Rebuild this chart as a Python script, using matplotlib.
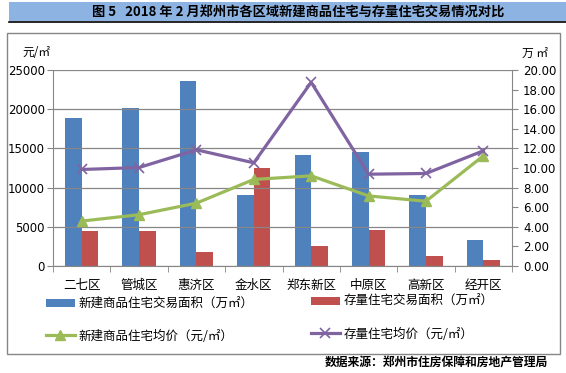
import matplotlib
matplotlib.use("Agg")
import matplotlib.pyplot as plt
from matplotlib.patches import Rectangle
from matplotlib.lines import Line2D
import numpy as np

plt.rcParams['font.family'] = ['Noto Sans CJK SC', 'DejaVu Sans']

# Data
districts = ["二七区", "管城区", "惠济区", "金水区", "郑东新区", "中原区", "高新区", "经开区"]
new_area = [15.14, 16.16, 18.90, 7.20, 11.31, 11.62, 7.22, 2.63]      # 万㎡
stock_area = [3.53, 3.53, 1.40, 9.95, 2.01, 3.65, 0.99, 0.58]        # 万㎡
new_price = [5730, 6540, 8020, 11040, 11500, 8940, 8260, 14050]      # 元/㎡
stock_price = [12310, 12560, 14820, 13160, 23430, 11710, 11800, 14690]  # 元/㎡

left_ticks = [0, 5000, 10000, 15000, 20000, 25000]
right_ticks = [0, 2, 4, 6, 8, 10, 12, 14, 16, 18, 20]

blue = '#4F81BD'
red = '#C0504D'
green = '#9BBB59'
purple = '#8064A2'
grey = '#868686'

W, H = 566, 373
fig = plt.figure(figsize=(W / 100, H / 100), dpi=100)

def fx(px):
    return px / W

def fy(py):
    return 1 - py / H

# title band
fig.patches.append(Rectangle((fx(9), fy(21)), 1 - fx(9), fy(2) - fy(21),
                             transform=fig.transFigure, facecolor='#8DB3E2', edgecolor='none'))
fig.add_artist(Line2D([fx(9), 1], [fy(21.5), fy(21.5)], transform=fig.transFigure,
                      color='black', lw=1.2))
fig.text(fx(298), fy(11.5), "图 5   2018 年 2 月郑州市各区域新建商品住宅与存量住宅交易情况对比",
         ha='center', va='center', fontsize=9.5, fontweight='bold')

# chart frame
fig.patches.append(Rectangle((fx(7), fy(354)), fx(560) - fx(7), fy(33) - fy(354),
                             transform=fig.transFigure, facecolor='none', edgecolor=grey, lw=1))

ax = fig.add_axes([fx(53), fy(266), fx(512) - fx(53), fy(70) - fy(266)])
ax2 = ax.twinx()
ax.set_zorder(ax2.get_zorder() + 1)
ax.patch.set_visible(False)

x = np.arange(len(districts))
bw = 0.29
ax2.bar(x - bw / 2, new_area, bw, color=blue, label="新建商品住宅交易面积（万㎡）")
ax2.bar(x + bw / 2, stock_area, bw, color=red, label="存量住宅交易面积（万㎡）")
ax.plot(x, new_price, color=green, lw=2.3, marker='^', ms=7, label="新建商品住宅均价（元/㎡）")
ax.plot(x, stock_price, color=purple, lw=2.3, marker='x', ms=7.5, mew=1.2, label="存量住宅均价（元/㎡）")

ax.set_xlim(-0.5, len(districts) - 0.5)
ax.set_ylim(0, 25000)
ax2.set_ylim(0, 20)
ax.set_yticks(left_ticks)
ax.set_yticklabels([str(v) for v in left_ticks], family='DejaVu Sans')
ax2.set_yticks(right_ticks)
ax2.set_yticklabels([f"{v:.2f}" for v in right_ticks], family='DejaVu Sans')
ax.set_xticks(x)
ax.set_xticklabels(districts)
ax.set_xticks(np.arange(len(districts) + 1) - 0.5, minor=True)
ax.tick_params(axis='x', which='major', length=0, pad=9, labelsize=9)
ax.tick_params(axis='x', which='minor', length=4, color=grey)
ax.tick_params(axis='y', length=4, color=grey, labelsize=8.5, pad=2)
ax2.tick_params(axis='y', length=4, color=grey, labelsize=8.5, pad=4)
ax2.tick_params(axis='x', length=0)

ax.grid(axis='y', color=grey, lw=0.9)
ax.set_axisbelow(True)
for a in (ax, ax2):
    a.spines['top'].set_visible(False)
    for s in ('left', 'right', 'bottom'):
        a.spines[s].set_color(grey)
ax.spines['right'].set_visible(False)
ax2.spines['left'].set_visible(False)
ax2.spines['bottom'].set_visible(False)

fig.text(fx(22), fy(53), "元/㎡", ha='left', va='center', fontsize=8.5)
fig.text(fx(522), fy(53), "万 ㎡", ha='left', va='center', fontsize=8.5)

# legend: two columns placed separately
h1, l1 = ax2.get_legend_handles_labels()
h2, l2 = ax.get_legend_handles_labels()
leg_kw = dict(frameon=False, fontsize=9, handlelength=2.3, handleheight=0.6,
              labelspacing=1.55, handletextpad=0.3, borderpad=0, borderaxespad=0,
              loc='upper left')
fig.legend([h1[0], h2[0]], [l1[0], l2[0]], bbox_to_anchor=(fx(46), fy(297)), **leg_kw)
fig.legend([h1[1], h2[1]], [l1[1], l2[1]], bbox_to_anchor=(fx(311), fy(295)), **leg_kw)

fig.text(fx(548), fy(362), "数据来源：郑州市住房保障和房地产管理局",
         ha='right', va='center', fontsize=8.5, fontweight='bold', style='italic')

fig.savefig("out.png", dpi=100)
